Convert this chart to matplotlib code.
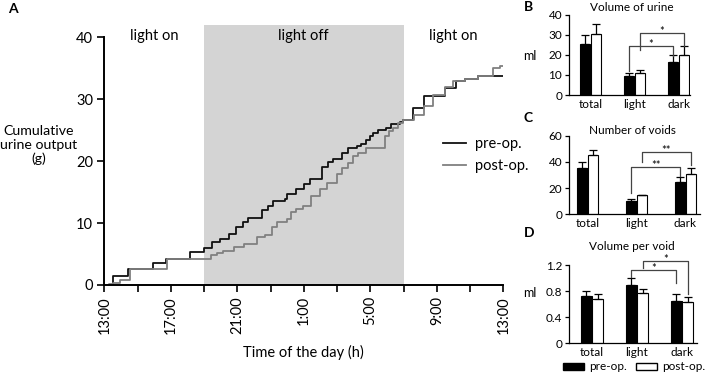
#!/usr/bin/env python3

import matplotlib
matplotlib.use("Agg")
import matplotlib.pyplot as plt
from matplotlib.patches import Patch

plt.rcParams['font.family'] = ['Lato', 'DejaVu Sans']

# --- panel A: cumulative urine output (hours after 13:00) ---
pre_t = [0, 0.54, 1.44, 2.95, 3.69, 5.15, 5.97, 6.49, 6.95, 7.5, 7.9, 8.36,
         8.66, 9.46, 9.82, 10.16, 10.86, 11.0, 11.56, 12.0, 12.36, 13.1,
         13.47, 13.77, 14.27, 14.67, 15.17, 15.47, 15.77, 15.97, 16.17,
         16.47, 16.97, 17.27, 17.78, 17.97, 18.58, 19.24, 20.48, 21.15,
         21.7, 22.5, 24.0]
pre_v = [0, 1.5, 2.6, 3.6, 4.2, 5.4, 6.0, 6.9, 7.5, 8.2, 9.4, 10.2,
         10.8, 12.1, 12.8, 13.5, 13.9, 14.7, 15.5, 16.3, 17.1, 19.0,
         19.9, 20.3, 21.3, 22.1, 22.4, 22.7, 23.5, 24.0, 24.5,
         25.1, 25.4, 26.0, 26.4, 26.7, 28.6, 30.5, 31.8, 32.9,
         33.2, 33.8, 33.8]
post_t = [0, 0.3, 0.54, 0.94, 1.54, 3.8, 6.4, 6.75, 7.15, 7.8, 8.4, 9.16,
          9.66, 10.06, 10.36, 10.96, 11.26, 11.56, 11.96, 12.46, 12.97,
          13.37, 13.97, 14.27, 14.67, 14.97, 15.27, 15.77, 16.87, 17.13,
          17.37, 17.67, 17.97, 18.6, 19.2, 19.8, 20.5, 21.0, 21.7, 22.5,
          23.4, 23.8, 24.0]
post_v = [0, 0.2, 0.4, 0.8, 2.6, 4.2, 4.85, 5.2, 5.5, 6.2, 6.7, 7.7,
          8.1, 9.3, 10.1, 10.7, 11.8, 12.3, 12.8, 14.3, 15.5,
          16.5, 17.95, 18.9, 19.7, 20.8, 21.4, 22.1, 24.0, 24.8,
          25.3, 26.1, 26.6, 27.4, 28.9, 30.7, 32.0, 32.9, 33.2, 33.8,
          35.0, 35.4, 35.4]
dark_start, dark_end = 6, 18
time_labels = ["13:00", "17:00", "21:00", "1:00", "5:00", "9:00", "13:00"]

# --- panels B-D: bar charts ---
groups = ["total", "light", "dark"]
vol_pre, vol_pre_err = [25.5, 9.5, 16.5], [4.5, 1.5, 3.5]
vol_post, vol_post_err = [30.5, 11.0, 20.0], [5.0, 1.5, 4.5]
num_pre, num_pre_err = [35.0, 10.5, 24.5], [4.7, 1.3, 3.7]
num_post, num_post_err = [45.5, 14.5, 31.0], [3.8, 0.6, 4.0]
vpv_pre, vpv_pre_err = [0.73, 0.90, 0.65], [0.07, 0.10, 0.10]
vpv_post, vpv_post_err = [0.67, 0.77, 0.63], [0.08, 0.06, 0.08]

W, H = 709, 375
fig = plt.figure(figsize=(7.09, 3.75), dpi=100)


def px_axes(left, right, y0, ytop):
    # axes from pixel coordinates
    return fig.add_axes([left / W, 1 - y0 / H, (right - left) / W, (y0 - ytop) / H])


# ---------------- panel A ----------------
ax = px_axes(104.3, 503.3, 285, 25)
ax.axvspan(dark_start, dark_end, color="#d4d4d4", lw=0, zorder=0)
ax.step(pre_t, pre_v, where="post", color="#111111", lw=1.3, label="pre-op.")
ax.step(post_t, post_v, where="post", color="#808080", lw=1.3, label="post-op.")
ax.set_xlim(0, 24)
ax.set_ylim(0, 42)
ax.spines["top"].set_visible(False)
ax.spines["right"].set_visible(False)
ax.spines["left"].set_bounds(0, 40)
for s in ("left", "bottom"):
    ax.spines[s].set_linewidth(1.4)
ax.set_yticks([0, 10, 20, 30, 40])
ax.set_xticks(range(0, 25, 2))
ax.set_xticklabels([time_labels[i // 2] if i % 2 == 0 else "" for i in range(13)],
                   rotation=90)
ax.tick_params(width=1.2, length=5, labelsize=10.5, pad=3)
ax.set_xlabel("Time of the day (h)", fontsize=10.5, labelpad=8)
fig.text(39 / W, 1 - 145 / H, "Cumulative\nurine output\n(g)", ha="center",
         va="center", fontsize=10.2, linespacing=1.2)
for xc, txt in [(3, "light on"), (12, "light off"), (21, "light on")]:
    ax.text(xc, 40.3, txt, ha="center", va="center", fontsize=10.5)
ax.legend(loc="center left", bbox_to_anchor=(0.815, 0.5), frameon=False,
          fontsize=10.5, handlelength=1.6, handletextpad=0.6, labelspacing=0.6)
fig.text(8 / W, 1 - 9 / H, "A", fontsize=10, fontweight="bold", va="center")


# ---------------- panels B-D ----------------
def bar_panel(y0, ytop, right, spacing, g0, width, off, ylim, yticks, yfmt,
              pre, pre_err, post, post_err, title, title_y, brackets, ml_y=None):
    a = px_axes(569, right, y0, ytop)
    xs = [0, 1, 2]
    xp = [x - off for x in xs]
    xq = [x + off for x in xs]
    a.bar(xp, pre, width, color="black", edgecolor="black", lw=0.8, zorder=2)
    a.bar(xq, post, width, color="white", edgecolor="black", lw=0.8, zorder=2)
    a.errorbar(xp, pre, yerr=[[0] * 3, pre_err], fmt="none", ecolor="black",
               elinewidth=0.9, capsize=2.8, capthick=0.9, zorder=3)
    a.errorbar(xq, post, yerr=[[0] * 3, post_err], fmt="none", ecolor="black",
               elinewidth=0.9, capsize=2.8, capthick=0.9, zorder=3)
    a.set_xlim(-(g0 - 569) / spacing, (right - g0) / spacing)
    a.set_ylim(*ylim)
    a.set_yticks(yticks)
    a.set_yticklabels([yfmt(t) for t in yticks])
    a.set_xticks(xs)
    a.set_xticklabels(groups)
    a.tick_params(axis="x", length=0, labelsize=8.5, pad=3)
    a.tick_params(axis="y", length=3, width=0.9, labelsize=8.5, pad=2)
    a.spines["top"].set_visible(False)
    a.spines["right"].set_visible(False)
    for s in ("left", "bottom"):
        a.spines[s].set_linewidth(0.9)
    fig.text(632 / W, 1 - title_y / H, title, ha="center", va="center", fontsize=8.5)
    span = ylim[1] - ylim[0]
    for (x1, y1, x2, y2, yh, star) in brackets:
        a.plot([x1, x1, x2, x2], [y1, yh, yh, y2], color="#444444", lw=0.9,
               clip_on=False, zorder=4)
        a.text((x1 + x2) / 2, yh + 0.02 * span, star, ha="center", va="center",
               fontsize=8, clip_on=False)
    if ml_y is not None:
        fig.text(530 / W, 1 - ml_y / H, "ml", ha="center", va="center", fontsize=9)
    return a


off_b = 0.125
bar_panel(95, 14.7, 690, 44, 590.5, 0.23, off_b, (0, 40), [0, 10, 20, 30, 40],
          lambda t: "%d" % t, vol_pre, vol_pre_err, vol_post, vol_post_err,
          "Volume of urine", 7.5,
          [(1 - off_b, 12.0, 2 - off_b, 19.5, 24.6, "*"),
           (1 + off_b, 22.4, 2 + off_b, 24.5, 30.7, "*")], ml_y=56)

off_c = 0.11
bar_panel(214.3, 135.7, 700, 49, 587.5, 0.22, off_c, (0, 60), [0, 20, 40, 60],
          lambda t: "%d" % t, num_pre, num_pre_err, num_post, num_post_err,
          "Number of voids", 130,
          [(1 - off_c, 16.0, 2 - off_c, 29.0, 36.4, "**"),
           (1 + off_c, 40.0, 2 + off_c, 37.7, 47.3, "**")])

off_d = 0.13
bar_panel(343, 265, 697, 45, 592, 0.24, off_d, (0, 1.2), [0, 0.4, 0.8, 1.2],
          lambda t: "0" if t == 0 else "%.1f" % t, vpv_pre, vpv_pre_err,
          vpv_post, vpv_post_err, "Volume per void", 246,
          [(1 - off_d, 1.02, 2 - off_d, 0.92, 1.12, "*"),
           (1 + off_d, 1.16, 2 + off_d, 0.76, 1.26, "*")], ml_y=293)

for lbl, yy in [("B", 7), ("C", 118), ("D", 233)]:
    fig.text(524 / W, 1 - yy / H, lbl, fontsize=10, fontweight="bold", va="center")

handles = [Patch(facecolor="black", edgecolor="black"),
           Patch(facecolor="white", edgecolor="black")]
fig.legend(handles, ["pre-op.", "post-op."], loc="center",
           bbox_to_anchor=(634 / W, 1 - 367 / H), ncol=2, frameon=False,
           fontsize=8.5, handlelength=1.8, handleheight=0.6, handletextpad=0.4,
           columnspacing=0.8, borderpad=0, borderaxespad=0)

fig.savefig("out.png", dpi=100)
